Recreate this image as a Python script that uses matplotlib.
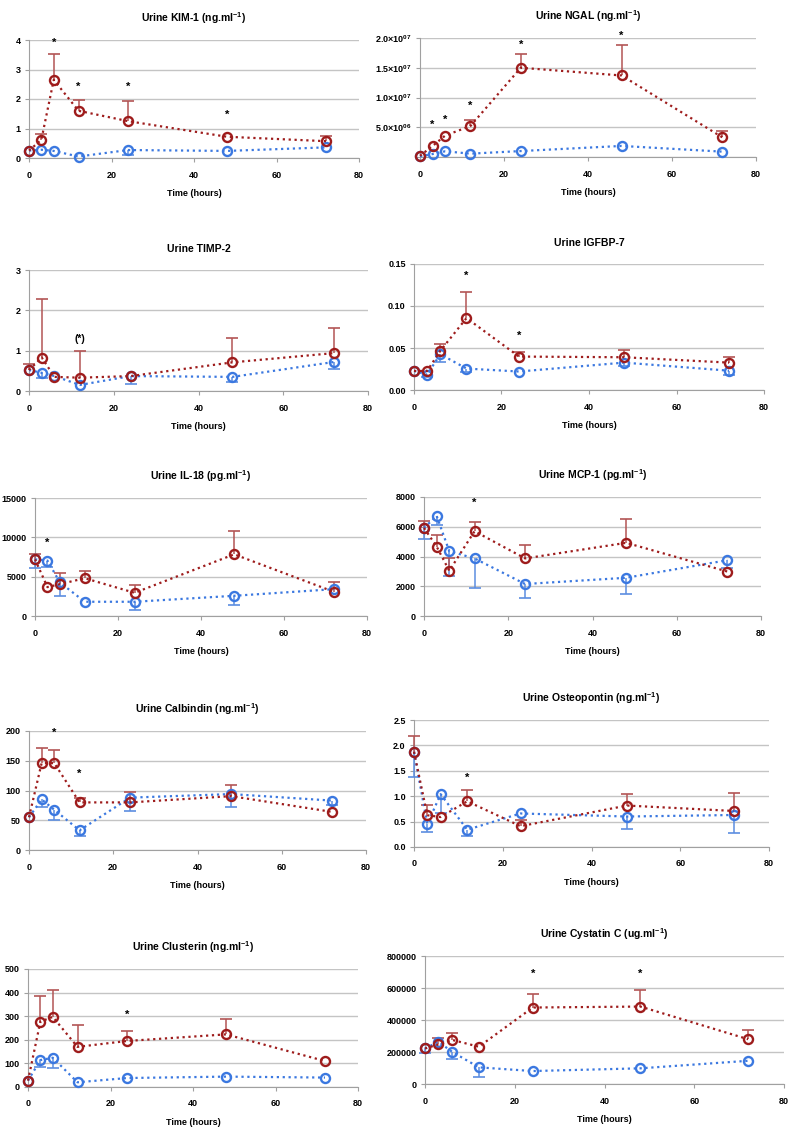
import numpy as np
import matplotlib.pyplot as plt

plt.rcParams['font.family'] = ['Liberation Sans', 'DejaVu Sans']
plt.rcParams['font.weight'] = 'bold'
plt.rcParams['mathtext.fontset'] = 'custom'
plt.rcParams['mathtext.rm'] = 'Liberation Sans:bold'
plt.rcParams['mathtext.bf'] = 'Liberation Sans:bold'
plt.rcParams['mathtext.default'] = 'bf'

# sampling times (hours)
time = [0, 3, 6, 12, 24, 48, 72]

# Urine KIM-1
kim_red = [0.25, 0.62, 2.65, 1.60, 1.25, 0.72, 0.57]
kim_red_hi = [None, 0.80, 3.52, 1.95, 1.92, None, 0.75]
kim_blue = [0.25, 0.28, 0.24, 0.05, 0.27, 0.24, 0.36]
kim_blue_lo = [None, None, None, None, 0.10, None, None]
kim_stars = [(6, 3.9, '*'), (12, 2.4, '*'), (24, 2.4, '*'), (48, 1.45, '*')]

# Urine NGAL
ngal_red = [2e5, 1.86e6, 3.6e6, 5.2e6, 1.50e7, 1.37e7, 3.3e6]
ngal_red_hi = [None, None, None, 6.2e6, 1.73e7, 1.88e7, 4.3e6]
ngal_blue = [1e5, 5e5, 9.6e5, 5.6e5, 1.0e6, 1.86e6, 9e5]
ngal_blue_lo = [None] * 7
ngal_stars = [(3, 5.35e6, '*'), (6, 6.2e6, '*'), (12, 8.6e6, '*'),
              (24, 1.88e7, '*'), (48, 2.04e7, '*')]

# Urine TIMP-2
timp_red = [0.52, 0.83, 0.35, 0.33, 0.37, 0.71, 0.94]
timp_red_hi = [0.68, 2.28, None, 0.98, None, 1.31, 1.57]
timp_blue = [0.52, 0.45, 0.37, 0.15, 0.37, 0.35, 0.72]
timp_blue_lo = [None, 0.31, None, None, 0.17, 0.23, 0.55]
timp_stars = [(12, 1.28, '(*)')]

# Urine IGFBP-7
igf_red = [0.0227, 0.0227, 0.0466, 0.0856, 0.0398, 0.0390, 0.0326]
igf_red_hi = [None, None, 0.055, 0.117, 0.0454, 0.0474, 0.039]
igf_blue = [0.0227, 0.0183, 0.0426, 0.0255, 0.0220, 0.0326, 0.0230]
igf_blue_lo = [None, 0.016, 0.0334, 0.021, None, 0.028, 0.018]
igf_stars = [(12, 0.136, '*'), (24, 0.064, '*')]

# Urine IL-18
il_red = [7200, 3670, 4050, 4800, 2950, 7840, 3080]
il_red_hi = [7920, None, 5480, 5770, 3880, 10830, 4260]
il_blue = [7200, 7040, 4260, 1810, 1810, 2570, 3410]
il_blue_lo = [6070, 6280, 2490, None, 720, 1350, None]
il_stars = [(3, 9310, '*')]

# Urine MCP-1
mcp_red = [5920, 4670, 3040, 5700, 3870, 4920, 2990]
mcp_red_hi = [6390, 5450, 3870, 6350, 4740, 6550, None]
mcp_blue = [5920, 6730, 4360, 3870, 2150, 2570, 3750]
mcp_blue_lo = [5160, 6120, 2660, 1880, 1180, 1450, 3260]
mcp_stars = [(12, 7640, '*')]

# Urine Calbindin
cal_red = [55, 146, 146, 80, 80, 90.5, 64]
cal_red_hi = [None, 171, 168, 88, 98, 110, None]
cal_blue = [55, 85, 67.6, 33, 88, 94, 83]
cal_blue_lo = [None, 72, 51, 23.5, 65, 71.5, 75]
cal_stars = [(6, 197, '*'), (12, 128, '*')]

# Urine Osteopontin
ost_red = [1.875, 0.625, 0.59, 0.90, 0.41, 0.816, 0.71]
ost_red_hi = [2.18, 0.83, None, 1.125, 0.53, 1.05, 1.06]
ost_blue = [1.875, 0.45, 1.04, 0.34, 0.66, 0.60, 0.63]
ost_blue_lo = [1.38, 0.29, 0.67, 0.22, None, 0.355, 0.27]
ost_stars = [(12, 1.37, '*')]

# Urine Clusterin
clu_red = [27, 277, 297, 170, 195, 223, 110]
clu_red_hi = [None, 387, 410, 261, 237, 287, None]
clu_blue = [27, 114, 124, 20, 38, 44, 40]
clu_blue_lo = [None, 86, 80, None, None, None, None]
clu_stars = [(24, 306, '*')]

# Urine Cystatin C
cys_red = [222000, 247000, 276000, 233000, 478000, 484000, 280000]
cys_red_hi = [None, 289000, 320000, None, 565000, 590000, 337000]
cys_blue = [222000, 264000, 202000, 104000, 81000, 98000, 145000]
cys_blue_lo = [191000, None, 154000, 46000, None, None, None]
cys_stars = [(24, 690000, '*'), (48, 690000, '*')]

RED = '#9e1c1c'
RED_ERR = '#b35555'
BLUE = '#3b78e0'
BLUE_ERR = '#5c8ee0'

panels = [
    ('Urine KIM-1 (ng.ml$^{-1}$)', kim_red, kim_red_hi, kim_blue, kim_blue_lo, kim_stars,
     [0, 1, 2, 3, 4], ['0', '1', '2', '3', '4'], (29, 359, 40, 158)),
    ('Urine NGAL (ng.ml$^{-1}$)', ngal_red, ngal_red_hi, ngal_blue, ngal_blue_lo, ngal_stars,
     [0, 5e6, 1e7, 1.5e7, 2e7],
     ['', '5.0×10$^{06}$', '1.0×10$^{07}$', '1.5×10$^{07}$', '2.0×10$^{07}$'],
     (420, 756, 38, 157)),
    ('Urine TIMP-2', timp_red, timp_red_hi, timp_blue, timp_blue_lo, timp_stars,
     [0, 1, 2, 3], ['0', '1', '2', '3'], (29, 368, 270, 391)),
    ('Urine IGFBP-7', igf_red, igf_red_hi, igf_blue, igf_blue_lo, igf_stars,
     [0, 0.05, 0.10, 0.15], ['0.00', '0.05', '0.10', '0.15'], (414, 764, 264, 390)),
    ('Urine IL-18 (pg.ml$^{-1}$)', il_red, il_red_hi, il_blue, il_blue_lo, il_stars,
     [0, 5000, 10000, 15000], ['0', '5000', '10000', '15000'], (35, 367, 498, 616)),
    ('Urine MCP-1 (pg.ml$^{-1}$)', mcp_red, mcp_red_hi, mcp_blue, mcp_blue_lo, mcp_stars,
     [0, 2000, 4000, 6000, 8000], ['0', '2000', '4000', '6000', '8000'], (424, 761, 497, 616)),
    ('Urine Calbindin (ng.ml$^{-1}$)', cal_red, cal_red_hi, cal_blue, cal_blue_lo, cal_stars,
     [0, 50, 100, 150, 200], ['0', '50', '100', '150', '200'], (29, 366, 731, 850)),
    ('Urine Osteopontin (ng.ml$^{-1}$)', ost_red, ost_red_hi, ost_blue, ost_blue_lo, ost_stars,
     [0, 0.5, 1.0, 1.5, 2.0, 2.5], ['0.0', '0.5', '1.0', '1.5', '2.0', '2.5'],
     (414, 769, 720, 847)),
    ('Urine Clusterin (ng.ml$^{-1}$)', clu_red, clu_red_hi, clu_blue, clu_blue_lo, clu_stars,
     [0, 100, 200, 300, 400, 500], ['0', '100', '200', '300', '400', '500'],
     (28, 358, 969, 1087)),
    ('Urine Cystatin C (ug.ml$^{-1}$)', cys_red, cys_red_hi, cys_blue, cys_blue_lo, cys_stars,
     [0, 200000, 400000, 600000, 800000], ['0', '200000', '400000', '600000', '800000'],
     (425, 784, 956, 1084)),
]

W, H = 800, 1137
fig = plt.figure(figsize=(8, 11.37), dpi=100)


def draw_bars(ax, means, ends, color):
    for t, m, e in zip(time, means, ends):
        if e is None:
            continue
        ax.vlines(t, m, e, color=color, lw=1.1, clip_on=False, zorder=3)
        ax.plot([t], [e], marker='_', ms=8, mew=1.2, color=color, clip_on=False, zorder=3)


for title, red, red_hi, blue, blue_lo, stars, yt, ytl, (l, r, t, b) in panels:
    ax = fig.add_axes([l / W, 1 - b / H, (r - l) / W, (b - t) / H])
    ax.set_xlim(0, 80)
    ax.set_ylim(yt[0], yt[-1])
    ax.set_xticks([0, 20, 40, 60, 80])
    ax.set_yticks(yt)
    ax.set_yticklabels(ytl)
    ax.grid(axis='y', color='#c4c4c4', lw=1)
    ax.set_axisbelow(True)
    for s in ['top', 'right']:
        ax.spines[s].set_visible(False)
    for s in ['left', 'bottom']:
        ax.spines[s].set_color('#a0a0a0')
    ax.tick_params(labelsize=6.5, length=3, color='#a0a0a0', pad=3)
    ax.tick_params(axis='x', pad=6)

    # blue series first, red on top
    draw_bars(ax, blue, blue_lo, BLUE_ERR)
    ax.plot(time, blue, ls=':', color=BLUE, lw=1.6, marker='o', ms=6.5,
            mfc='none', mec=BLUE, mew=1.7, clip_on=False, zorder=4)
    draw_bars(ax, red, red_hi, RED_ERR)
    ax.plot(time, red, ls=':', color=RED, lw=1.6, marker='o', ms=6.5,
            mfc='none', mec=RED, mew=1.7, clip_on=False, zorder=5)

    for sx, sy, txt in stars:
        ax.text(sx, sy, txt, ha='center', va='center', fontsize=8 if txt == '*' else 7.5,
                fontweight='bold', clip_on=False)

    ax.set_title(title, fontsize=7.5, fontweight='bold', pad=13)
    ax.set_xlabel('Time (hours)', fontsize=6.5, fontweight='bold', labelpad=7)

plt.savefig('out.png', dpi=100)
